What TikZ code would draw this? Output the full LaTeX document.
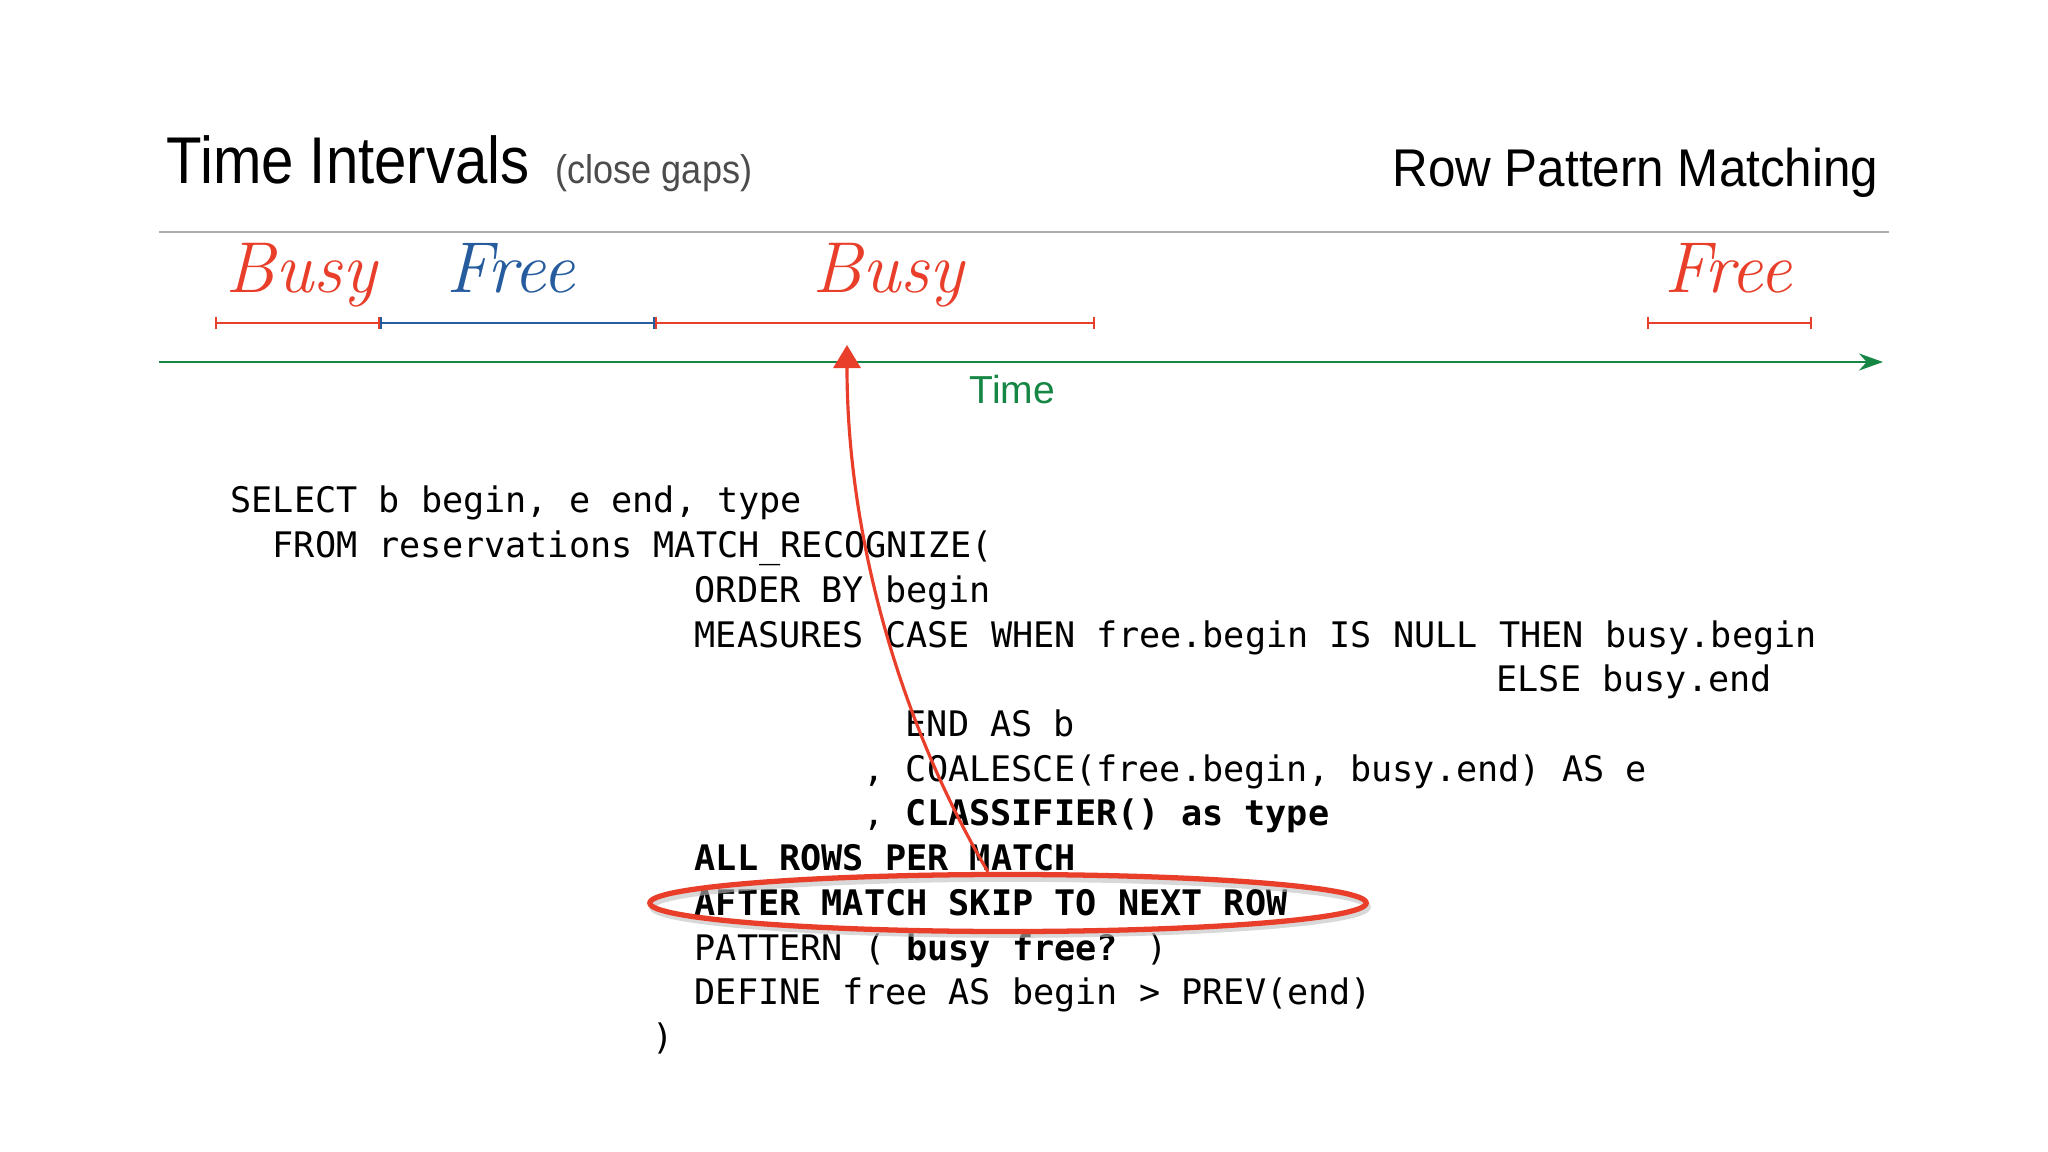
\documentclass[tikz,border=0pt]{standalone}
\usepackage{fontspec}
\usepackage{graphicx}
\usetikzlibrary{arrows.meta,shapes.geometric}
\newfontfamily\codefont{DejaVu Sans Mono}
\newfontfamily\headfont{Liberation Sans}
\definecolor{busyred}{RGB}{232,62,42}
\definecolor{freeblue}{RGB}{38,92,158}
\definecolor{timegreen}{RGB}{22,134,68}
\definecolor{rulegray}{RGB}{172,172,172}
\def\sqlline(#1,#2,#3)#4{\node[sql] (#1) at ({229.8+#2*21.1},{513+#3*44.7}) {#4};}

\begin{document}
\begin{tikzpicture}[x=0.01cm,y=-0.01cm,
		sql/.style={anchor=base west,inner sep=0pt,font=\codefont\fontsize{10}{12}\selectfont},
		hand/.style={anchor=base,inner sep=0pt,font=\fontsize{20.5}{22}\selectfont\itshape},
		span/.style={line width=0.7pt,{Bar[width=3.6pt]}-{Bar[width=3.6pt]}},
		head/.style={inner sep=0pt,font=\headfont}]
			%%%%% START %%%%%
			\fill[white] (0,0) rectangle (2048,1152);
			\useasboundingbox (0,0) rectangle (2048,1152);
			
			\node[head,anchor=base west,font=\headfont\fontsize{18.8}{20}\selectfont] (title) at (166,184) {\scalebox{0.88}[1]{Time Intervals}};
			\node[head,anchor=base west,font=\headfont\fontsize{11.4}{13}\selectfont,text=black!70] (sub) at (555,184) {\scalebox{0.9}[1]{(close gaps)}};
			\node[head,anchor=base east,font=\headfont\fontsize{15.1}{17}\selectfont] (topic) at (1879,187) {\scalebox{0.93}[1]{Row Pattern Matching}};
			\draw[rulegray,line width=0.45pt] (159,232) -- (1889,232);
			
			\node[hand,text=busyred] (busyA) at (301,293) {Busy};
			\node[hand,text=freeblue] (freeA) at (511,293) {Free};
			\node[hand,text=busyred] (busyB) at (888,293) {Busy};
			\node[hand,text=busyred] (freeB) at (1728,293) {Free};
			\draw[span,busyred] (215,323) -- (380,323);
			\draw[span,freeblue] (380,323) -- (655,323);
			\draw[span,busyred] (655,323) -- (1095,323);
			\draw[span,busyred] (1647,323) -- (1812,323);
			
			\coordinate (t0) at (159,362);
			\coordinate (t1) at (1883,362);
			\draw[timegreen,line width=0.8pt,-{Stealth[length=0.24cm,width=0.17cm]}] (t0) -- (t1);
			\node[head,anchor=base west,font=\headfont\fontsize{11.1}{13}\selectfont,text=timegreen] (timelbl) at (969,404) {Time};
			
			\sqlline(q0,0,0){SELECT b begin, e end, type}
			\sqlline(q1,2,1){FROM reservations MATCH\_RECOGNIZE(}
			\sqlline(q2,22,2){ORDER BY begin}
			\sqlline(q3,22,3){MEASURES CASE WHEN free.begin IS NULL THEN busy.begin}
			\sqlline(q4,60,4){ELSE busy.end}
			\sqlline(q5,32,5){END AS b}
			\sqlline(q6,30,6){, COALESCE(free.begin, busy.end) AS e}
			\sqlline(q7,30,7){, \textbf{CLASSIFIER() as type}}
			\sqlline(q8,22,8){\textbf{ALL ROWS PER MATCH}}
			\sqlline(q9,22,9){\textbf{AFTER MATCH SKIP TO NEXT ROW}}
			\sqlline(q10,22,10){PATTERN ( \textbf{busy free?} )}
			\sqlline(q11,22,11){DEFINE free AS begin > PREV(end)}
			\sqlline(q12,20,12){)}
			
			% faint shadow under the hand-drawn ring
			\draw[black!25,line width=1.6pt,opacity=0.6] (1010,907) ellipse (358 and 28);
			\node[ellipse,draw=busyred,line width=1.5pt,minimum width=7.16cm,minimum height=0.57cm,inner sep=0pt] (skip) at (1008,903) {};
			\coordinate (now) at (847,345);
			\draw[busyred,line width=0.9pt,-{Triangle[length=0.23cm,width=0.27cm]}] ([xshift=-0.2cm]skip.north) .. controls (905,732) and (847,545) .. (now);
			%%%%% END %%%%%
\end{tikzpicture}
\end{document}
